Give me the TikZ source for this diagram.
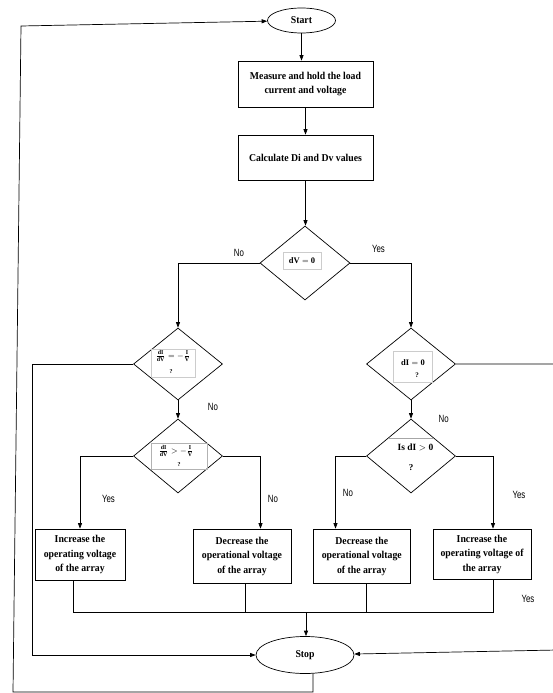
\documentclass[tikz,border=0pt]{standalone}
\usepackage{fontspec}
\setmainfont{Liberation Serif}
\newfontfamily\boxfont[FakeStretch=0.93]{Liberation Serif}
\newfontfamily\labfont[FakeStretch=0.75]{Liberation Sans}
\usetikzlibrary{shapes.geometric,arrows.meta,calc}
\newcommand{\txtdvz}{$\mathbf{dV}=\mathbf{0}$}
\newcommand{\txtdiz}{$\mathbf{dI}=\mathbf{0}$}
\newcommand{\txtfeq}{$\frac{\mathbf{dI}}{\mathbf{dV}}=-\frac{\mathbf{I}}{\mathbf{V}}$}
\newcommand{\txtfgt}{$\frac{\mathbf{dI}}{\mathbf{dV}}>-\frac{\mathbf{I}}{\mathbf{V}}$}
\newcommand{\txtisd}{\bfseries Is $\mathbf{dI}>\mathbf{0}$}
\tikzset{
  proc/.style={draw, rectangle, fill=white, align=center, inner sep=0pt,
    font=\boxfont\bfseries\fontsize{10.5}{14.5}\selectfont},
  term/.style={draw, ellipse, fill=white, inner sep=0pt,
    font=\boxfont\bfseries\fontsize{10.5}{12}\selectfont},
  dec/.style={draw, diamond, fill=white, inner sep=0pt},
  lab/.style={inner sep=0pt, font=\labfont\fontsize{10.5}{12}\selectfont},
  faint/.style={draw=gray!40, line width=0.5pt},
  meight/.style={inner sep=0pt, font=\fontsize{8.5}{9}\selectfont},
  mnine/.style={inner sep=0pt, font=\fontsize{8.5}{9}\selectfont},
  mninehalf/.style={inner sep=0pt, font=\fontsize{9.5}{11}\selectfont},
  qsix/.style={inner sep=0pt, font=\bfseries\fontsize{6}{6}\selectfont},
  qseven/.style={inner sep=0pt, font=\bfseries\fontsize{7}{8}\selectfont},
  qnine/.style={inner sep=0pt, font=\bfseries\fontsize{9}{10}\selectfont},
  flow/.style={->},
}
\begin{document}
\begin{tikzpicture}[x=1pt,y=-1pt,line width=0.7pt,>={Triangle[length=5.5pt,width=4pt]}]
\useasboundingbox[fill=white] (0,0) rectangle (552,693);

% terminals and processes
\node[term, minimum width=68pt, minimum height=25pt] (start) at (301.5,20.5) {Start};
\node[proc, minimum width=135pt, minimum height=46pt] (b1) at (305.5,84) {Measure and hold the load\\current and voltage};
\node[proc, minimum width=135pt, minimum height=45pt] (b2) at (305.5,157.5) {Calculate Di and Dv values};

% decisions
\node[dec, minimum width=90pt, minimum height=74pt] (d1) at (305,263) {};
\node[dec, minimum width=89pt, minimum height=72pt] (d2) at (178,364) {};
\node[dec, minimum width=89pt, minimum height=72pt] (d3) at (411,364) {};
\node[dec, minimum width=89pt, minimum height=74pt] (d4) at (178,456) {};
\node[dec, minimum width=89pt, minimum height=74pt] (d5) at (411,456) {};

% action boxes
\node[proc, minimum width=90pt, minimum height=51pt] (pa) at (80,554.5) {Increase the\\operating voltage\\of the array};
\node[proc, minimum width=98pt, minimum height=54pt] (pb) at (242,556) {Decrease the\\operational voltage\\of the array};
\node[proc, minimum width=97.5pt, minimum height=54pt] (pc) at (361.75,556) {Decrease the\\operational voltage\\of the array};
\node[proc, minimum width=98pt, minimum height=50pt] (pd) at (482,554) {Increase the\\operating voltage of\\the array};

\node[term, minimum width=98pt, minimum height=37pt] (stop) at (305,655) {Stop};

% diamond contents
\draw[faint] (283,252) rectangle (321,269);
\node[meight] (t1) at (302,260.5) {\txtdvz};

\draw[faint] (151,349) rectangle (195,377);
\node[mnine] (t2) at (173,356) {\txtfeq};
\node[qsix] (q2) at (171,371.5) {?};

\draw[faint] (393,351) rectangle (432,382);
\node[meight] (t3) at (413,363) {\txtdiz};
\node[qseven] (q3) at (417,375) {?};

\draw[draw=gray!60, line width=0.5pt] (151,443) rectangle (207,469);
\node[mnine] (t4) at (176,451) {\txtfgt};
\node[qsix] (q4) at (179,464.5) {?};

\draw[draw=gray!70, line width=0.5pt] (388,438) -- (434,438);
\node[mninehalf] (t5) at (415.5,447) {\txtisd};
\node[qnine] (q5) at (411,468) {?};

% helper coordinates
\coordinate (eb) at (260.5,0);
\coordinate (ec) at (335.5,0);
\coordinate (ed) at (493,0);
\coordinate (ma) at (73,612);
\coordinate (mb) at (245,612);
\coordinate (mc) at (366,612);
\coordinate (md) at (493,612);
\coordinate (m) at (306,612);
\coordinate (il) at (32,0);
\coordinate (rr) at (557,650);
\coordinate (o1) at (313,692);
\coordinate (o2) at (13,692);
\coordinate (o3) at (21,26);

% connectors
\draw[flow] (start.south) -- (start.south |- b1.north);
\draw[flow] (b1.south) -- (b2.north);
\draw[flow] (b2.south) -- (b2.south |- d1.north);
\draw[flow] (d1.west) -| (d2.north);
\draw[flow] (d1.east) -| (d3.north);
\draw[flow] (d2.south) -- (d4.north);
\draw[flow] (d3.south) -- (d5.north);
\draw[flow] (d4.west) -| (pa.north);
\draw[flow] (d4.east) -| (eb |- pb.north);
\draw[flow] (d5.west) -| (ec |- pc.north);
\draw[flow] (d5.east) -| (ed |- pd.north);

\draw (pa.south -| ma) -- (ma) -- (md) -- (pd.south -| md);
\draw (pb.south -| mb) -- (mb);
\draw (pc.south -| mc) -- (mc);
\draw[flow] (m) -- (stop.north -| m);

\draw[flow] (d2.west) -| (il |- stop.west) -- (stop.west);
\draw[flow] (d3.east) -| (rr) -- (stop);
\draw[flow] (stop.south -| o1) -- (o1) -- (o2) -- (o3) -- (start);

% labels
\node[lab] (l1) at (239,253) {No};
\node[lab] (l2) at (378.5,249) {Yes};
\node[lab] (l3) at (213,407) {No};
\node[lab] (l4) at (443.6,419) {No};
\node[lab] (l5) at (108.5,499) {Yes};
\node[lab] (l6) at (273,499) {No};
\node[lab] (l7) at (348,493) {No};
\node[lab] (l8) at (519,495) {Yes};
\node[lab] (l9) at (528,599) {Yes};
\end{tikzpicture}
\end{document}
